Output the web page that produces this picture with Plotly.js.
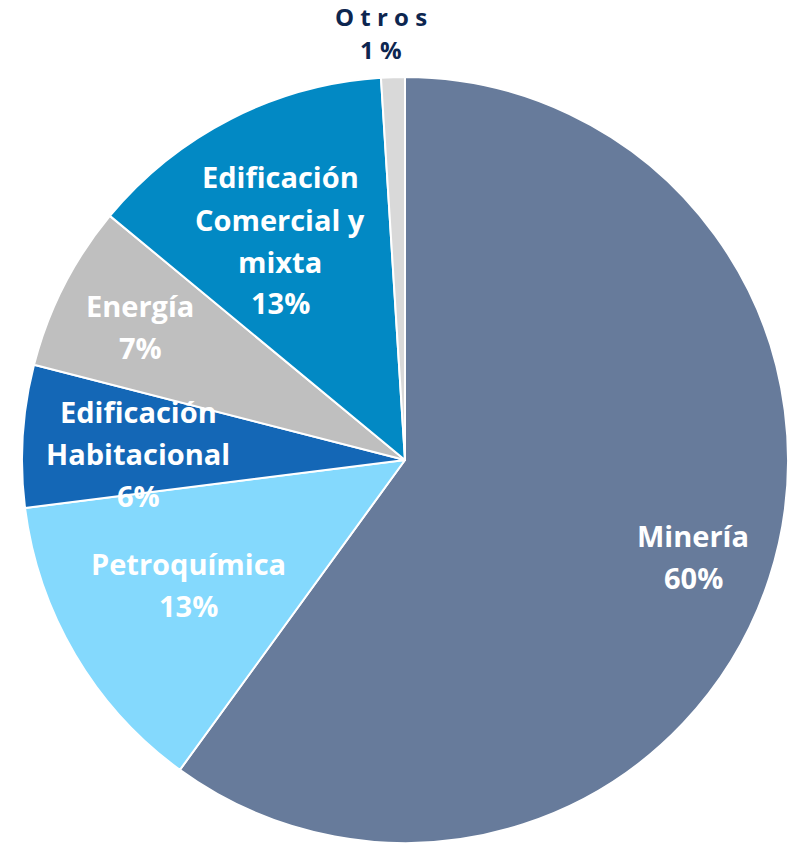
<!DOCTYPE html>
<html>
<head>
<meta charset="utf-8">
<script src="https://cdn.plot.ly/plotly-3.0.1.min.js"></script>
<style>html,body{margin:0;padding:0;background:#fff}#chart{width:800px;height:845px}</style>
</head>
<body>
<div id="chart"></div>
<script>
const categories = ["Minería", "Petroquímica", "Edificación Habitacional", "Energía", "Edificación Comercial y mixta", "Otros"];
const values = [60, 13, 6, 7, 13, 1];
const colors = ["#677b9b", "#84d9fd", "#1467b6", "#bfbfbf", "#0289c4", "#d9d9d9"];
const labelLines = [
  ["Minería", "60%"],
  ["Petroquímica", "13%"],
  ["Edificación", "Habitacional", "6%"],
  ["Energía", "7%"],
  ["Edificación", "Comercial y", "mixta", "13%"],
  ["O t r o s", "1 %"]
];
const labelColors = ["#ffffff", "#ffffff", "#ffffff", "#ffffff", "#ffffff", "#0d2650"];
// label block centres (pixels) and line spacing
const labelCenters = [[693, 556], [188, 584], [138, 453], [140, 326], [280, 240], [381, 33]];
const lineGap = [42, 42, 42, 42, 42, 33];
const labelSizes = [29, 29, 29, 29, 29, 24];

const W = 800, H = 845;
const annotations = [];
labelLines.forEach((lines, i) => {
  const [cx, cy] = labelCenters[i];
  const n = lines.length;
  lines.forEach((t, j) => {
    const py = cy + (j - (n - 1) / 2) * lineGap[i];
    annotations.push({
      text: t, xref: "paper", yref: "paper",
      x: cx / W, y: 1 - py / H, xanchor: "center", yanchor: "middle",
      showarrow: false, borderpad: 0,
      font: {family: "'Open Sans', Inter, sans-serif", size: labelSizes[i], color: labelColors[i], weight: 700}
    });
  });
});

const data = [{
  type: "pie",
  labels: categories,
  values: values,
  sort: false,
  direction: "clockwise",
  rotation: 0,
  textinfo: "none",
  hoverinfo: "label+percent",
  marker: {colors: colors, line: {color: "#ffffff", width: 2}},
  domain: {x: [22 / W, 788 / W], y: [2 / H, 768 / H]}
}];

const layout = {
  width: W, height: H,
  margin: {l: 0, r: 0, t: 0, b: 0},
  showlegend: false,
  paper_bgcolor: "#ffffff",
  annotations: annotations
};

Plotly.newPlot("chart", data, layout, {displayModeBar: false, staticPlot: true});
</script>
</body>
</html>
